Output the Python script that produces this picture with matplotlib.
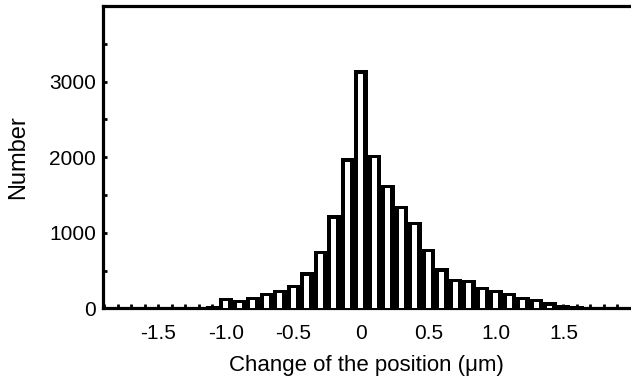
import numpy as np
import matplotlib
matplotlib.use("Agg")
import matplotlib.pyplot as plt

# histogram (bin centres in um, counts)
centers = [-1.3, -1.2, -1.1, -1.0, -0.9, -0.8, -0.7, -0.6, -0.5, -0.4, -0.3, -0.2, -0.1,
           0.0, 0.1, 0.2, 0.3, 0.4, 0.5, 0.6, 0.7, 0.8, 0.9, 1.0, 1.1, 1.2, 1.3, 1.4,
           1.5, 1.6, 1.7]
counts = [5, 12, 30, 140, 115, 155, 205, 245, 310, 478, 760, 1230, 1985,
          3150, 2030, 1635, 1355, 1145, 790, 530, 390, 375, 285, 245, 210, 155, 125, 78,
          45, 25, 10]

xticks = [-1.5, -1.0, -0.5, 0, 0.5, 1.0, 1.5]
xticklabels = ['-1.5', '-1.0', '-0.5', '0', '0.5', '1.0', '1.5']
yticks = [0, 1000, 2000, 3000]

plt.rcParams['font.family'] = ['Liberation Sans', 'DejaVu Sans']
plt.rcParams['axes.unicode_minus'] = False

fig = plt.figure(figsize=(6.31, 3.85), dpi=100)
ax = fig.add_axes([0.163, 0.199, 0.837, 0.785])

centers = np.array(centers)
counts = np.array(counts)

# black body of each bar, narrow white core inside (scanned "shadow" look)
ax.bar(centers, counts, width=0.1, color='black', linewidth=0, zorder=2)
top_border = 45
inner = counts - top_border
keep = inner > 0
ax.bar(centers[keep], inner[keep], width=0.037, color='white', linewidth=0, zorder=3)

ax.set_xlim(-1.91, 2.0)
ax.set_ylim(0, 4000)

ax.set_xticks(xticks)
ax.set_xticklabels(xticklabels)
ax.set_xticks(np.arange(-1.9, 2.0, 0.1), minor=True)
ax.set_yticks(yticks)
ax.set_yticks(np.arange(500, 4000, 1000), minor=True)

ax.tick_params(axis='both', which='both', direction='in', width=2, labelsize=15)
ax.tick_params(axis='both', which='major', length=3)
ax.tick_params(axis='both', which='minor', length=3)
ax.tick_params(axis='x', pad=11)
ax.tick_params(axis='y', pad=5)

for side in ['left', 'bottom', 'top']:
    ax.spines[side].set_linewidth(2.3)
ax.spines['right'].set_visible(False)

ax.set_xlabel('Change of the position (\u03bcm)', fontsize=16, labelpad=9)
ax.set_ylabel('Number', fontsize=17, labelpad=14)

fig.savefig('out.png', dpi=100)
